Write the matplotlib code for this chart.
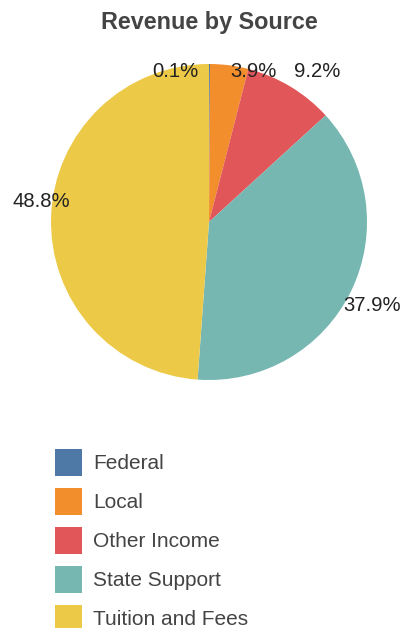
import matplotlib
matplotlib.use("Agg")
import matplotlib.pyplot as plt
from matplotlib.patches import Patch

plt.rcParams['font.family'] = ['Liberation Sans', 'DejaVu Sans']

categories = ["Federal", "Local", "Other Income", "State Support", "Tuition and Fees"]
shares = [0.1, 3.9, 9.2, 37.9, 48.8]
colors = ["#4e79a7", "#f28e2b", "#e15759", "#76b7b2", "#edc948"]
title = "Revenue by Source"

# label placement (x, y in pie-radius units)
label_pos = [(-0.21, 0.95), (0.28, 0.95), (0.685, 0.95), (1.03, -0.53), (-1.06, 0.13)]

fig = plt.figure(figsize=(4.04, 6.28), dpi=100)
ax = fig.add_axes([51/404, 1 - 380/628, 316/404, 316/628])
wedges, texts, autotexts = ax.pie(
    shares, colors=colors, startangle=90, counterclock=False,
    autopct=lambda p: f"{p:.1f}%", pctdistance=1.0,
    wedgeprops=dict(linewidth=0), textprops=dict(fontsize=14.6, color="#222222"))
for t, (x, y) in zip(autotexts, label_pos):
    t.set_position((x, y))
    t.set_ha("center")
    t.set_va("center")
ax.set_xlim(-1, 1)
ax.set_ylim(-1, 1)
ax.set_aspect("equal")
ax.axis("off")

fig.text(209/404, 1 - 22/628, title, ha="center", va="center",
         fontsize=16.8, fontweight="bold", color="#444444")

handles = [Patch(facecolor=c, edgecolor=c, linewidth=0) for c in colors]
fs = 15
px = fs * 100 / 72
hh = (27/px - 0.245) / 0.65
fig.legend(handles, categories, loc="upper left",
           bbox_to_anchor=(55/404, 1 - 449/628), frameon=False,
           fontsize=fs, labelcolor="#444444",
           handlelength=27/px, handleheight=hh,
           labelspacing=12/px, handletextpad=(95 - 84)/px,
           borderpad=0, borderaxespad=0)

fig.savefig("out.png", dpi=100)
